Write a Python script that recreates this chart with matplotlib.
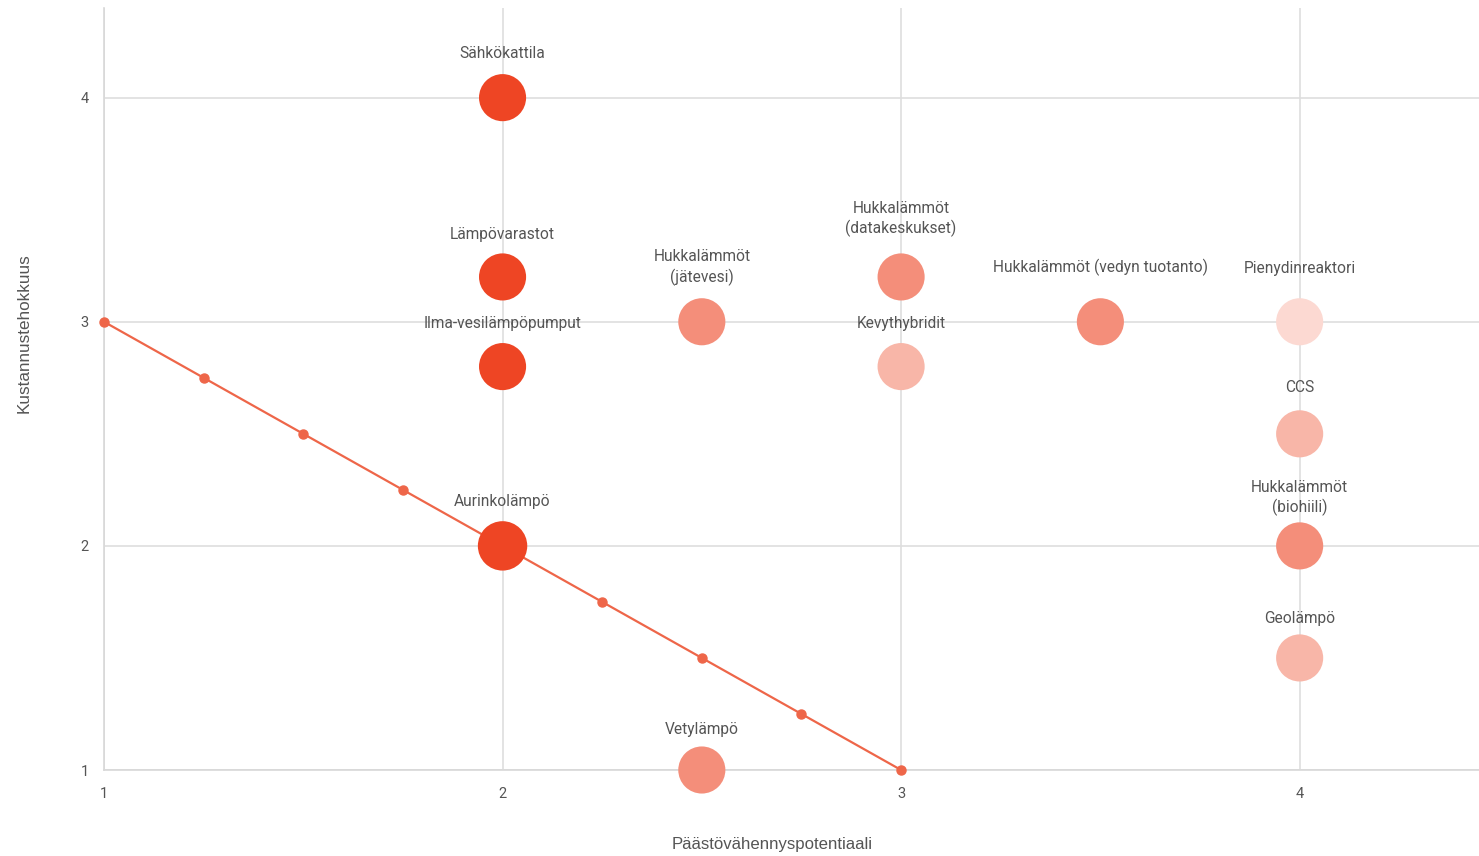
import matplotlib
matplotlib.use("Agg")
import matplotlib.pyplot as plt

# point data
names = [
    "Sähkökattila", "Lämpövarastot", "Ilma-vesilämpöpumput", "Aurinkolämpö",
    "Hukkalämmöt\n(jätevesi)", "Vetylämpö", "Hukkalämmöt\n(datakeskukset)",
    "Kevythybridit", "Hukkalämmöt (vedyn tuotanto)", "Pienydinreaktori",
    "CCS", "Hukkalämmöt\n(biohiili)", "Geolämpö",
]
x_vals = [2, 2, 2, 2, 2.5, 2.5, 3, 3, 3.5, 4, 4, 4, 4]
y_vals = [4, 3.2, 2.8, 2, 3, 1, 3.2, 2.8, 3, 3, 2.5, 2, 1.5]
levels = [3, 3, 3, 3, 2, 2, 2, 1, 2, 0, 1, 2, 1]
sizes = [1.0, 1.0, 1.0, 1.1, 1.0, 1.0, 1.0, 1.0, 1.0, 1.0, 1.0, 1.0, 1.0]

# reference line
line_x = [1, 1.25, 1.5, 1.75, 2, 2.25, 2.5, 2.75, 3]
line_y = [3, 2.75, 2.5, 2.25, 2, 1.75, 1.5, 1.25, 1]

x_ticks = [1, 2, 3, 4]
y_ticks = [1, 2, 3, 4]

level_colors = {0: "#fcd9d2", 1: "#f8b6a8", 2: "#f48e7a", 3: "#ee4524"}
# label offsets above the circle centre (points)
label_offset = [26.3, 24.8, 25.5, 26.8, 26.1, 23.7, 29.1, 25.7, 32.6, 33.3,
                28, 21.5, 23]

fig = plt.figure(figsize=(14.79, 8.56), dpi=100)
ax = fig.add_axes([104 / 1479, 1 - 770 / 856, 1 - 104 / 1479, (770 - 8) / 856])

ax.set_xlim(1, 4.45)
ax.set_ylim(1, 4.40)
ax.set_xticks(x_ticks)
ax.set_yticks(y_ticks)
ax.grid(True, color="#dedede", linewidth=1.2)
ax.set_axisbelow(True)
for side in ["top", "right"]:
    ax.spines[side].set_visible(False)
for side in ["left", "bottom"]:
    ax.spines[side].set_color("#d8d8d8")
    ax.spines[side].set_linewidth(1.2)
ax.tick_params(length=0, labelsize=10.5, labelcolor="#555555")
ax.tick_params(axis="x", pad=12)
ax.tick_params(axis="y", pad=11)
for lab in ax.get_xticklabels() + ax.get_yticklabels():
    lab.set_family("Roboto")

ax.plot(line_x, line_y, color="#ee6649", linewidth=1.6, marker="o",
        markersize=6.5, zorder=3, clip_on=False)

base = 1150
ax.scatter(x_vals, y_vals, s=[base * s for s in sizes],
           c=[level_colors[l] for l in levels], linewidths=0, zorder=4,
           clip_on=False)

for name, x, y, off in zip(names, x_vals, y_vals, label_offset):
    ax.annotate(name, (x, y), xytext=(0, off), textcoords="offset points",
                ha="center", va="bottom", fontsize=11.2, color="#555555",
                family="Roboto", linespacing=1.28, zorder=5)

fig.text(24 / 1479, 1 - 333 / 856, "Kustannustehokkuus", rotation=90,
         ha="center", va="center", fontsize=12.3, color="#555555",
         family="Liberation Sans")
fig.text(772 / 1479, 1 - 845 / 856, "Päästövähennyspotentiaali",
         ha="center", va="center", fontsize=12.1, color="#555555",
         family="Liberation Sans")

fig.savefig("out.png", dpi=100)
